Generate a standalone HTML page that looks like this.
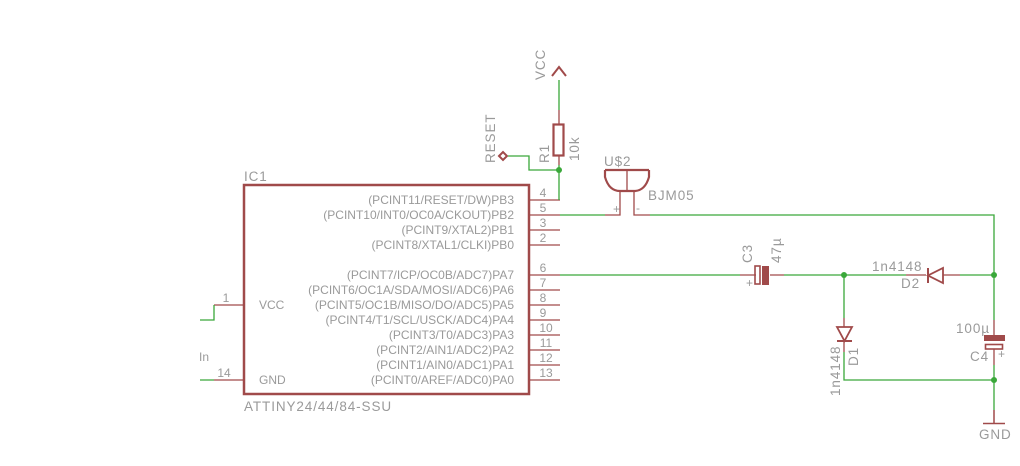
<!DOCTYPE html>
<html><head><meta charset="utf-8"><style>
html,body{margin:0;padding:0;background:#fff}
svg{display:block}
text{font-family:"Liberation Sans",sans-serif;fill:#9a9a9a;font-size:12px}
.b{font-size:13.5px;letter-spacing:0.9px}
</style></head><body>
<svg width="1020" height="466" viewBox="0 0 1020 466" xmlns="http://www.w3.org/2000/svg">
<g fill="none" stroke="#a04a4a" stroke-width="1.3">
<rect x="244" y="185" width="285" height="209" stroke-width="2.5"/>
<path d="M529 200H560M529 215H560M529 230H560M529 245H560M529 275H560M529 290H560M529 305H560M529 320H560M529 335H560M529 350H560M529 365H560M529 380H560"/>
<path d="M214 305H244M214 380H244"/>
<path d="M552 76L559 67L566 76" stroke-width="2"/>
<rect x="553.5" y="124.5" width="10" height="31" stroke-width="2.2"/>
<path d="M559 110V124M559 156V165"/>
<path d="M499 156L503 152L507 156L503 160Z" stroke-width="2"/>
<path d="M605 170H649 M605 170V177 Q609 191 620 191 H634 Q645 191 649 177 V170" stroke-width="2.2"/>
<path d="M627 170V191M620 191V215H605M634 191V215H650"/>
<path d="M740 275H756M770 275H784"/>
<rect x="755" y="266" width="5" height="18" stroke-width="1.6"/>
<path d="M926 275H906M943 275H960"/>
<path d="M928 268V283" stroke-width="2"/>
<path d="M943 268V283L928 275.5Z" stroke-width="1.8"/>
<path d="M844 318V327M844 341V352"/>
<path d="M837 327H852L844.5 341Z" stroke-width="1.8"/>
<path d="M837 341H852" stroke-width="2"/>
<path d="M994 320V336M994 349V365"/>
<rect x="985.5" y="344.5" width="17" height="4.5" stroke-width="1.6"/>
<path d="M994 410V423M983 423.5H1005" stroke-width="1.5"/>
</g>
<rect x="762" y="266" width="7" height="19" fill="#a04a4a"/>
<rect x="984" y="335" width="21" height="6" fill="#a04a4a"/>
<g fill="none" stroke="#3aa83a" stroke-width="1.3">
<path d="M559 80V110M559 165V200M508 156H529V170H559"/>
<path d="M200 320H214V305M200 380H214"/>
<path d="M560 215H605M650 215H994V275"/>
<path d="M560 275H740M784 275H906M960 275H994V320"/>
<path d="M844 275V318M844 352V380H994M994 365V410"/>
</g>
<g fill="#3aa83a"><circle cx="559" cy="170" r="3"/><circle cx="844" cy="275" r="3"/><circle cx="994" cy="275" r="3"/><circle cx="994" cy="380" r="3"/></g>
<g font-size="11">
<text x="543" y="197" text-anchor="middle">4</text><text x="543" y="212" text-anchor="middle">5</text><text x="543" y="227" text-anchor="middle">3</text><text x="543" y="242" text-anchor="middle">2</text><text x="543" y="272" text-anchor="middle">6</text><text x="543" y="287" text-anchor="middle">7</text><text x="543" y="302" text-anchor="middle">8</text><text x="543" y="317" text-anchor="middle">9</text><text x="546" y="332" text-anchor="middle">10</text><text x="546" y="347" text-anchor="middle">11</text><text x="546" y="362" text-anchor="middle">12</text><text x="546" y="377" text-anchor="middle">13</text>
<text x="226" y="302" text-anchor="middle">1</text><text x="224" y="377" text-anchor="middle">14</text>
</g>
<g text-anchor="end">
<text x="514" y="204">(PCINT11/RESET/DW)PB3</text>
<text x="514" y="219">(PCINT10/INT0/OC0A/CKOUT)PB2</text>
<text x="514" y="234">(PCINT9/XTAL2)PB1</text>
<text x="514" y="249">(PCINT8/XTAL1/CLKI)PB0</text>
<text x="514" y="279">(PCINT7/ICP/OC0B/ADC7)PA7</text>
<text x="514" y="294">(PCINT6/OC1A/SDA/MOSI/ADC6)PA6</text>
<text x="514" y="309">(PCINT5/OC1B/MISO/DO/ADC5)PA5</text>
<text x="514" y="324">(PCINT4/T1/SCL/USCK/ADC4)PA4</text>
<text x="514" y="339">(PCINT3/T0/ADC3)PA3</text>
<text x="514" y="354">(PCINT2/AIN1/ADC2)PA2</text>
<text x="514" y="369">(PCINT1/AIN0/ADC1)PA1</text>
<text x="514" y="384">(PCINT0/AREF/ADC0)PA0</text>
</g>
<text x="259" y="309">VCC</text><text x="259" y="384">GND</text>
<text x="199" y="361" font-size="11">In</text>
<text class="b" x="244" y="181">IC1</text>
<text class="b" x="244" y="411">ATTINY24/44/84-SSU</text>
<text class="b" x="604" y="166">U$2</text>
<text class="b" x="648" y="200">BJM05</text>
<text x="613" y="213" font-size="9">+</text><text x="636" y="212" font-size="9">-</text>
<text class="b" transform="translate(545,80) rotate(-90)">VCC</text>
<text class="b" transform="translate(495,163) rotate(-90)">RESET</text>
<text class="b" transform="translate(549,163) rotate(-90)">R1</text>
<text class="b" transform="translate(579,161) rotate(-90)">10k</text>
<text class="b" transform="translate(752,263) rotate(-90)">C3</text>
<text class="b" transform="translate(781,263) rotate(-90)">47µ</text>
<text x="746" y="287" font-size="10" fill="#a04a4a">+</text>
<text class="b" x="872" y="271">1n4148</text>
<text class="b" x="901" y="288">D2</text>
<text class="b" transform="translate(840,396) rotate(-90)">1n4148</text>
<text class="b" transform="translate(858,366) rotate(-90)">D1</text>
<text class="b" x="956" y="333">100µ</text>
<text class="b" x="970" y="361">C4</text>
<text x="998" y="358" font-size="10" fill="#a04a4a">+</text>
<text class="b" x="979" y="439">GND</text>
</svg>
</body></html>
